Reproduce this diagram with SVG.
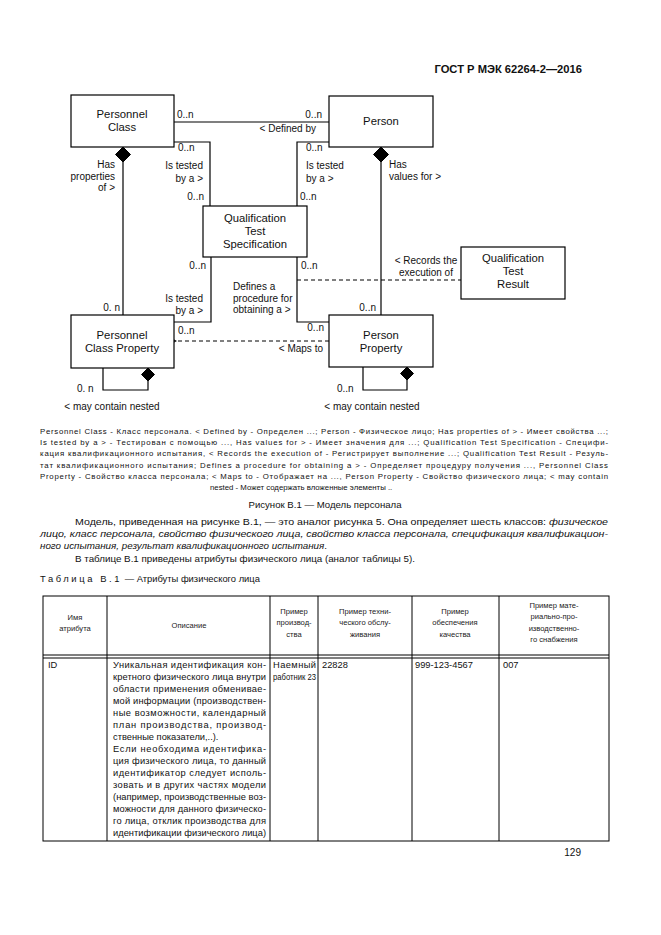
<svg xmlns="http://www.w3.org/2000/svg" width="661" height="935" viewBox="0 0 661 935">
<defs>
<style>
text{font-family:"Liberation Sans",Arial,sans-serif;fill:#111}
.box{fill:#fff;stroke:#000;stroke-width:1.2}
.bt{font-size:11.3px;text-anchor:middle}
.lb{font-size:10px}
.ln{fill:none;stroke:#000;stroke-width:1.2}
.ds{fill:none;stroke:#000;stroke-width:1;stroke-dasharray:4 3}
.dm{fill:#000;stroke:#000;stroke-width:1}
.cap{font-size:7.8px}
.par{font-size:9.8px}
.it{font-style:italic}
.th{font-size:7.6px;text-anchor:middle;fill:#222}
.td{font-size:9.3px}
.tb{fill:none;stroke:#000;stroke-width:1}
</style>
<marker id="open" markerWidth="10" markerHeight="10" refX="1" refY="5" orient="auto" markerUnits="userSpaceOnUse">
<path d="M9,1 L1,5 L9,9" fill="none" stroke="#000" stroke-width="1.1"/>
</marker>
</defs>
<rect width="661" height="935" fill="#fff"/>
<text x="582" y="73" text-anchor="end" style="font-size:11.2px;font-weight:bold">ГОСТ Р МЭК 62264-2—2016</text>

<g id="connectors">
<path class="ln" d="M174,122 H329"/>
<path class="ln" d="M174,142 H210 V206"/>
<path class="ln" d="M329,142 H297 V206"/>
<path class="ln" d="M123,162 V315"/>
<path class="dm" d="M123,147 L130.5,154.5 L123,162 L115.5,154.5 Z"/>
<path class="ln" d="M381,162 V315"/>
<path class="dm" d="M381,147 L388.5,154.5 L381,162 L373.5,154.5 Z"/>
<path class="ln" d="M211,257 V322 H174"/>
<path class="ln" d="M297,257 V322 H329"/>
<path class="ds" d="M297,280 H461"/>
<path class="ds" d="M329,341 H176" marker-end="url(#open)"/>
<path class="ln" d="M103,368 V390 H148 V381"/>
<path class="dm" d="M148,368 L154.5,374.5 L148,381 L141.5,374.5 Z"/>
<path class="ln" d="M363,367 V390 H407 V380"/>
<path class="dm" d="M407,367 L413.5,373.5 L407,380 L400.5,373.5 Z"/>
</g>

<g id="personnel-class">
<rect class="box" x="71" y="95" width="103" height="52"/>
<text class="bt" x="122" y="118">Personnel</text>
<text class="bt" x="122" y="131">Class</text>
</g>
<g id="person">
<rect class="box" x="329" y="96" width="104" height="51"/>
<text class="bt" x="381" y="125">Person</text>
</g>
<g id="qualification-test-specification">
<rect class="box" x="203" y="206" width="104" height="51"/>
<text class="bt" x="255" y="222">Qualification</text>
<text class="bt" x="255" y="235">Test</text>
<text class="bt" x="255" y="248">Specification</text>
</g>
<g id="qualification-test-result">
<rect class="box" x="461" y="247" width="104" height="52"/>
<text class="bt" x="513" y="262">Qualification</text>
<text class="bt" x="513" y="275">Test</text>
<text class="bt" x="513" y="288">Result</text>
</g>
<g id="personnel-class-property">
<rect class="box" x="71" y="315" width="103" height="53"/>
<text class="bt" x="122" y="339">Personnel</text>
<text class="bt" x="122" y="352">Class Property</text>
</g>
<g id="person-property">
<rect class="box" x="329" y="315" width="104" height="52"/>
<text class="bt" x="381" y="339">Person</text>
<text class="bt" x="381" y="352">Property</text>
</g>

<g id="labels" class="lb">
<text x="177" y="118">0..n</text>
<text x="322" y="118" text-anchor="end">0..n</text>
<text x="316" y="132" text-anchor="end">&lt; Defined by</text>
<text x="178" y="151">0..n</text>
<text x="203" y="169" text-anchor="end">Is tested</text>
<text x="203" y="182" text-anchor="end">by a &gt;</text>
<text x="204" y="200" text-anchor="end">0..n</text>
<text x="306" y="151">0..n</text>
<text x="306" y="169">Is tested</text>
<text x="306" y="182">by a &gt;</text>
<text x="300" y="200">0..n</text>
<text x="115" y="168" text-anchor="end">Has</text>
<text x="115" y="180" text-anchor="end">properties</text>
<text x="115" y="191" text-anchor="end">of &gt;</text>
<text x="389" y="168">Has</text>
<text x="389" y="180">values for &gt;</text>
<text x="206" y="269" text-anchor="end">0..n</text>
<text x="301" y="269">0..n</text>
<text x="426" y="264" text-anchor="middle">&lt; Records the</text>
<text x="426" y="276" text-anchor="middle">execution of</text>
<text x="233" y="290">Defines a</text>
<text x="233" y="302">procedure for</text>
<text x="233" y="313">obtaining a &gt;</text>
<text x="203" y="302" text-anchor="end">Is tested</text>
<text x="203" y="314" text-anchor="end">by a &gt;</text>
<text x="120" y="311" text-anchor="end">0. n</text>
<text x="376" y="311" text-anchor="end">0..n</text>
<text x="178" y="334">0..n</text>
<text x="324" y="331" text-anchor="end">0..n</text>
<text x="323" y="352" text-anchor="end">&lt; Maps to</text>
<text x="77" y="392">0. n</text>
<text x="337" y="392">0..n</text>
<text x="112" y="410" text-anchor="middle">&lt; may contain nested</text>
<text x="372" y="410" text-anchor="middle">&lt; may contain nested</text>
</g>

<g id="caption" class="cap">
<text x="40" y="434" textLength="568" lengthAdjust="spacing">Personnel Class - Класс персонала. &lt; Defined by - Определен ...; Person - Физическое лицо; Has properties of &gt; - Имеет свойства ...;</text>
<text x="40" y="445" textLength="568" lengthAdjust="spacing">Is tested by a &gt; - Тестирован с помощью ..., Has values for &gt; - Имеет значения для ...; Qualification Test Specification - Специфи-</text>
<text x="40" y="456" textLength="568" lengthAdjust="spacing">кация квалификационного испытания, &lt; Records the execution of - Регистрирует выполнение ...; Qualification Test Result - Резуль-</text>
<text x="40" y="468" textLength="568" lengthAdjust="spacing">тат квалификационного испытания; Defines a procedure for obtaining a &gt; - Определяет процедуру получения ..., Personnel Class</text>
<text x="40" y="479" textLength="568" lengthAdjust="spacing">Property - Свойство класса персонала; &lt; Maps to - Отображает на ..., Person Property - Свойство физического лица; &lt; may contain</text>
<text x="210" y="490">nested - Может содержать вложенные элементы ..</text>
</g>

<g id="figure-title">
<text x="325" y="508" text-anchor="middle" style="font-size:9.6px">Рисунок В.1 — Модель персонала</text>
</g>

<g id="paragraph" class="par">
<text x="75" y="525" textLength="533" lengthAdjust="spacingAndGlyphs">Модель, приведенная на рисунке В.1, — это аналог рисунка 5. Она определяет шесть классов: <tspan class="it">физическое</tspan></text>
<text x="40" y="537" textLength="568" lengthAdjust="spacingAndGlyphs" class="it">лицо, класс персонала, свойство физического лица, свойство класса персонала, спецификация квалификацион-</text>
<text x="40" y="549"><tspan class="it">ного испытания, результат квалификационного испытания</tspan>.</text>
<text x="75" y="562">В таблице В.1 приведены атрибуты физического лица (аналог таблицы 5).</text>
<text x="40" y="582" style="font-size:9.4px"><tspan style="letter-spacing:2.6px">Таблица В.1</tspan> — Атрибуты физического лица</text>
</g>

<g id="table">
<rect class="tb" x="43" y="596" width="566" height="245"/>
<path class="tb" d="M43,655 H609 M43,658 H609"/>
<path class="tb" d="M107,596 V841 M270,596 V841 M318,596 V841 M412,596 V841 M499,596 V841"/>
<text class="th" x="75" y="620">Имя</text>
<text class="th" x="75" y="631">атрибута</text>
<text class="th" x="189" y="628">Описание</text>
<text class="th" x="294" y="614">Пример</text>
<text class="th" x="294" y="625">производ-</text>
<text class="th" x="294" y="637">ства</text>
<text class="th" x="365" y="614">Пример техни-</text>
<text class="th" x="365" y="625">ческого обслу-</text>
<text class="th" x="365" y="637">живания</text>
<text class="th" x="455" y="614">Пример</text>
<text class="th" x="455" y="625">обеспечения</text>
<text class="th" x="455" y="637">качества</text>
<text class="th" x="554" y="608">Пример мате-</text>
<text class="th" x="554" y="619">риально-про-</text>
<text class="th" x="554" y="631">изводственно-</text>
<text class="th" x="554" y="642">го снабжения</text>
<g class="td">
<text x="48" y="668">ID</text>
<text x="113" y="668" textLength="153" lengthAdjust="spacing">Уникальная идентификация кон-</text>
<text x="113" y="680" textLength="153" lengthAdjust="spacing">кретного физического лица внутри</text>
<text x="113" y="692" textLength="153" lengthAdjust="spacing">области применения обменивае-</text>
<text x="113" y="704" textLength="153" lengthAdjust="spacing">мой информации (производствен-</text>
<text x="113" y="716" textLength="153" lengthAdjust="spacing">ные возможности, календарный</text>
<text x="113" y="728" textLength="153" lengthAdjust="spacing">план производства, производ-</text>
<text x="113" y="740">ственные показатели,..).</text>
<text x="113" y="752" textLength="153" lengthAdjust="spacing">Если необходима идентифика-</text>
<text x="113" y="764" textLength="153" lengthAdjust="spacing">ция физического лица, то данный</text>
<text x="113" y="776" textLength="153" lengthAdjust="spacing">идентификатор следует исполь-</text>
<text x="113" y="788" textLength="153" lengthAdjust="spacing">зовать и в других частях модели</text>
<text x="113" y="800" textLength="153" lengthAdjust="spacing">(например, производственные воз-</text>
<text x="113" y="812" textLength="153" lengthAdjust="spacing">можности для данного физическо-</text>
<text x="113" y="824" textLength="153" lengthAdjust="spacing">го лица, отклик производства для</text>
<text x="113" y="836" textLength="153" lengthAdjust="spacing">идентификации физического лица)</text>
<text x="273" y="668" textLength="43" lengthAdjust="spacing">Наемный</text>
<text x="273" y="680" textLength="43" lengthAdjust="spacingAndGlyphs">работник 23</text>
<text x="322" y="668">22828</text>
<text x="415" y="668">999-123-4567</text>
<text x="503" y="668">007</text>
</g>
</g>

<text x="581" y="856" text-anchor="end" style="font-size:10px">129</text>
</svg>
